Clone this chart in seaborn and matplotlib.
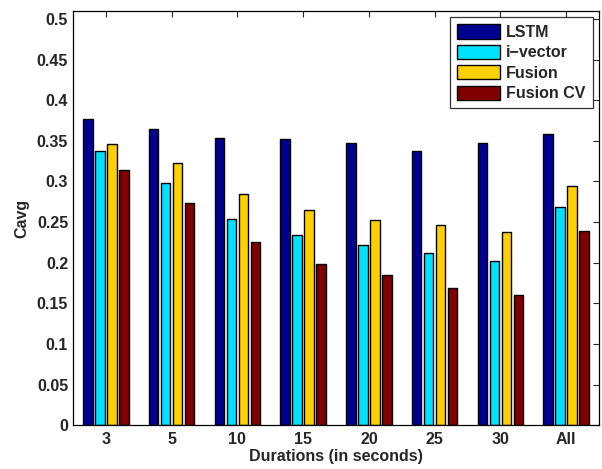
import numpy as np
import pandas as pd
import matplotlib
matplotlib.use("Agg")
import matplotlib.pyplot as plt
import seaborn as sns

durations = ["3", "5", "10", "15", "20", "25", "30", "All"]
systems = ["LSTM", "i\u2212vector", "Fusion", "Fusion CV"]
lstm = [0.377, 0.365, 0.353, 0.352, 0.347, 0.338, 0.347, 0.359]
ivector = [0.338, 0.298, 0.254, 0.234, 0.222, 0.212, 0.202, 0.269]
fusion = [0.346, 0.323, 0.285, 0.265, 0.253, 0.246, 0.238, 0.295]
fusion_cv = [0.314, 0.274, 0.225, 0.199, 0.185, 0.169, 0.160, 0.239]
colors = ["#000090", "#00E0FF", "#FFD000", "#800000"]
yticks = [0, 0.05, 0.1, 0.15, 0.2, 0.25, 0.3, 0.35, 0.4, 0.45, 0.5]

rows = []
for name, vals in zip(systems, [lstm, ivector, fusion, fusion_cv]):
    for d, v in zip(durations, vals):
        rows.append({"Duration": d, "System": name, "Cavg": v})
df = pd.DataFrame(rows)

sns.set_style("white")
plt.rcParams["font.family"] = ["Liberation Sans", "DejaVu Sans"]
plt.rcParams["font.weight"] = "bold"

fs = 11.5
fig = plt.figure(figsize=(6.02, 4.69), dpi=100)
ax = fig.add_axes([0.1213, 0.0932, 0.995 - 0.1213, 0.977 - 0.0932])

sns.barplot(data=df, x="Duration", y="Cavg", hue="System", order=durations,
            hue_order=systems, palette=colors, width=0.727, gap=0.2,
            edgecolor="black", linewidth=1.0, saturation=1, ax=ax, errorbar=None)

ax.set_xlim(-0.5, 7.5)
ax.set_ylim(0, 0.51)
ax.set_yticks(yticks)
ax.set_yticklabels([f"{t:g}" for t in yticks])
ax.set_xlabel("Durations (in seconds)", fontsize=fs, fontweight="bold", labelpad=1)
ax.set_ylabel("Cavg", fontsize=fs, fontweight="bold", labelpad=5)
ax.tick_params(axis="both", direction="in", length=4, width=0.8, labelsize=fs,
               top=True, right=True, pad=3.5)
ax.tick_params(axis="x", pad=5)
for lab in ax.get_xticklabels() + ax.get_yticklabels():
    lab.set_fontweight("bold")
for s in ax.spines.values():
    s.set_visible(True)
    s.set_color("black")
    s.set_linewidth(0.9)

leg = ax.legend(loc="upper right", frameon=True,
                fancybox=False, edgecolor="black", handlelength=2.7,
                handleheight=1.0, labelspacing=0.3, handletextpad=0.35,
                borderpad=0.45, borderaxespad=0.4,
                prop={"weight": "bold", "size": fs})
leg.get_frame().set_linewidth(0.9)

fig.savefig("out.png", dpi=100)
